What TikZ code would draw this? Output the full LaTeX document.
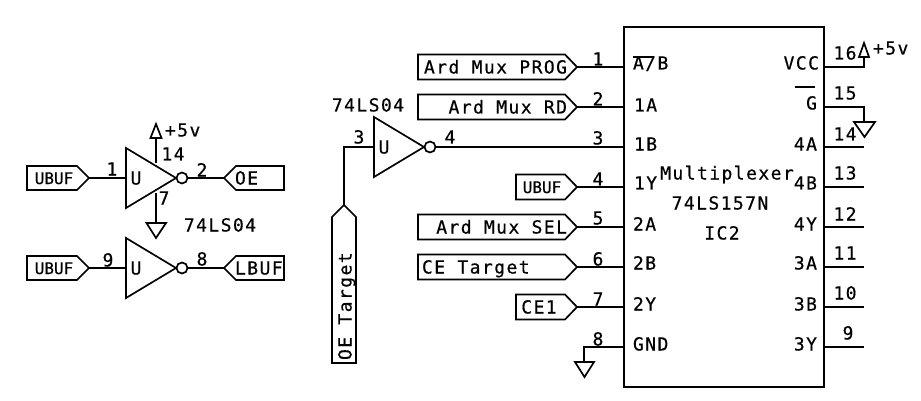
\documentclass[tikz,border=0pt]{standalone}
\usepackage{fontspec}
\newfontfamily\schfont[LetterSpace=8,FakeBold=0.5]{DejaVu Sans Mono}
\newfontfamily\schsmall[FakeBold=0.5]{DejaVu Sans Mono}
\tikzset{
  wire/.style={line width=1.7pt,line join=miter},
  lbl/.style={inner sep=0pt,outer sep=0pt,font=\schfont\fontsize{18}{18}\selectfont,anchor=base},
  lbs/.style={inner sep=0pt,outer sep=0pt,font=\schsmall\fontsize{16}{16}\selectfont,anchor=base},
  bubble/.style={draw,circle,line width=1.7pt,inner sep=0pt,minimum size=11pt},
  chip/.style={draw,rectangle,line width=1.7pt,inner sep=0pt,minimum width=200pt,minimum height=360pt}
}
% output tag pointing right: name, left x, centre y
\newcommand{\tagright}[3]{%
  \draw[wire] (#2,#3-12.5) -- (565,#3-12.5) -- (577,#3) -- (565,#3+12.5) -- (#2,#3+12.5) -- cycle;
  \coordinate (#1) at (577,#3);}
\newcommand{\inverter}[3]{%
  \draw[wire] (#2,#3-30) -- (#2+50,#3) -- (#2,#3+30) -- cycle;
  \coordinate (#1in) at (#2,#3);
  \node[bubble] (#1b) at (#2+56,#3) {};
  \node[lbl] (#1u) at (#2+10,#3+6.5) {U};}
\begin{document}
\begin{tikzpicture}[x=1pt,y=-1pt]
\useasboundingbox (0,0) rectangle (921,401);
\fill[white] (0,0) rectangle (921,401);

% --- left inverters ---
\inverter{ia}{126}{178}
\inverter{ib}{126}{268}
% UBUF tags
\draw[wire] (27,166) -- (77,166) -- (89,178) -- (77,190) -- (27,190) -- cycle;
\coordinate (ua) at (89,178);
\node[lbs] (ual) at (54,184) {UBUF};
\draw[wire] (27,256) -- (77,256) -- (89,268) -- (77,280) -- (27,280) -- cycle;
\coordinate (ub) at (89,268);
\node[lbs] (ubl) at (54,274) {UBUF};
\draw[wire] (ua) -- (iain);
\draw[wire] (ub) -- (ibin);
% OE / LBUF tags
\draw[wire] (224,178) -- (236,166) -- (284,166) -- (284,190) -- (236,190) -- cycle;
\coordinate (oe) at (224,178);
\node[lbl,anchor=base west] (oel) at (235,184.5) {OE};
\draw[wire] (224,268) -- (236,256) -- (284,256) -- (284,280) -- (236,280) -- cycle;
\coordinate (lb) at (224,268);
\node[lbl,anchor=base west] (lbl) at (235,274.5) {LBUF};
\draw[wire] (iab) -- (oe);
\draw[wire] (ibb) -- (lb);
% power on first inverter
\coordinate (iav) at (156,138);
\coordinate (iavb) at (156,163);
\coordinate (iag) at (156,223);
\coordinate (iagb) at (156,193);
\draw[wire] (iavb) -- (iav);
\draw[wire] (iagb) -- (iag);
\draw[wire] (150.5,138) -- (156,124) -- (161.5,138) -- cycle;
\draw[wire] (146.5,223) -- (166,223) -- (156,238) -- cycle;
\node[lbl,anchor=base west] (p5a) at (165,136.5) {+5v};
\node[lbl] (n14a) at (173,160.5) {14};
\node[lbl] (n1a) at (112,175.5) {1};
\node[lbl] (n2a) at (202,176.5) {2};
\node[lbl] (n7a) at (164,204.5) {7};
\node[lbl] (n74a) at (220,231.5) {74LS04};
\node[lbl] (n9a) at (108,266.5) {9};
\node[lbl] (n8a) at (202,265.5) {8};

% --- chip ---
\node[chip] (ic) at (724,207) {};
\node[lbl] (mx) at (727,179.5) {Multiplexer};
\node[lbl] (mxn) at (720,209.5) {74LS157N};
\node[lbl] (mxi) at (722,239.5) {IC2};

% --- left side tags ---
\tagright{t1}{418}{67}
\node[lbl,anchor=base east] (t1l) at (567,73.5) {Ard Mux PROG};
\tagright{t2}{418}{107}
\node[lbl,anchor=base east] (t2l) at (567,113.5) {Ard Mux RD};
\tagright{t4}{516}{187}
\node[lbs] (t4l) at (542,193) {UBUF};
\tagright{t5}{418}{227}
\node[lbl,anchor=base east] (t5l) at (567,233.5) {Ard Mux SEL};
\tagright{t6}{418}{267}
\node[lbl,anchor=base west] (t6l) at (422,273.5) {CE Target};
\tagright{t7}{516}{307}
\node[lbl] (t7l) at (539,313.5) {CE1};
\foreach \n in {t1,t2,t4,t5,t6,t7} \draw[wire] (\n) -- (ic.west |- \n);

% --- middle inverter ---
\inverter{ic3}{374}{147}
\draw[wire] (ic3b) -- (ic.west |- ic3b);
\draw[wire] (332,363) -- (356,363) -- (356,217) -- (344,205) -- (332,217) -- cycle;
\coordinate (oet) at (344,205);
\draw[wire] (oet) |- (ic3in);
\node[lbl,rotate=90,anchor=base west] (oetl) at (351.5,360) {OE Target};
\node[lbl] (n74b) at (368,111.5) {74LS04};
\node[lbl] (n3b) at (359,143.5) {3};
\node[lbl] (n4b) at (450,143.5) {4};

% --- pin numbers left ---
\node[lbl] (pl1) at (598,65.5) {1};
\node[lbl] (pl2) at (598,105.5) {2};
\node[lbl] (pl3) at (598,144.5) {3};
\node[lbl] (pl4) at (598,185.5) {4};
\node[lbl] (pl5) at (598,224.5) {5};
\node[lbl] (pl6) at (598,265.5) {6};
\node[lbl] (pl7) at (598,305.5) {7};
\node[lbl] (pl8) at (598,345.5) {8};
% pin 8 ground
\coordinate (g8) at (584,362);
\draw[wire] (ic.west |- 0,347) -| (g8);
\draw[wire] (575,362) -- (594,362) -- (584.5,377) -- cycle;

% --- chip pin names ---
\node[lbl,anchor=base west] (a1) at (633,69.5) {A/B};
\draw[wire] (633,57) -- (654,57);
\node[lbl,anchor=base west] (a2) at (634,111.5) {1A};
\node[lbl,anchor=base west] (a3) at (634,150.5) {1B};
\node[lbl,anchor=base west] (a4) at (634,189.5) {1Y};
\node[lbl,anchor=base west] (a5) at (633,230.5) {2A};
\node[lbl,anchor=base west] (a6) at (633,269.5) {2B};
\node[lbl,anchor=base west] (a7) at (633,310.5) {2Y};
\node[lbl,anchor=base west] (a8) at (633,350.5) {GND};
\node[lbl,anchor=base east] (b1) at (819,69.5) {VCC};
\node[lbl,anchor=base east] (b2) at (817,109.5) {G};
\draw[wire] (795,87) -- (815,87);
\node[lbl,anchor=base east] (b3) at (817,150.5) {4A};
\node[lbl,anchor=base east] (b4) at (817,189.5) {4B};
\node[lbl,anchor=base east] (b5) at (817,230.5) {4Y};
\node[lbl,anchor=base east] (b6) at (817,269.5) {3A};
\node[lbl,anchor=base east] (b7) at (817,310.5) {3B};
\node[lbl,anchor=base east] (b8) at (817,350.5) {3Y};

% --- right pins ---
\coordinate (r16) at (864,67);
\coordinate (r16t) at (864,57);
\draw[wire] (ic.east |- r16) -- (r16) -- (r16t);
\draw[wire] (859,57) -- (864,43) -- (869,57) -- cycle;
\node[lbl,anchor=base west] (p5b) at (873,54.5) {+5v};
\coordinate (r15) at (864,107);
\coordinate (r15t) at (864,122);
\draw[wire] (ic.east |- r15) -- (r15) -- (r15t);
\draw[wire] (854,122) -- (875,122) -- (864.5,137) -- cycle;
\foreach \n/\y in {14/147,13/187,12/227,11/267,10/307,9/347}{
  \coordinate (r\n) at (864,\y);
  \draw[wire] (ic.east |- r\n) -- (r\n);
}
\node[lbl] (q16) at (845,59.5) {16};
\node[lbl] (q15) at (845,99.5) {15};
\node[lbl] (q14) at (845,140.5) {14};
\node[lbl] (q13) at (845,179.5) {13};
\node[lbl] (q12) at (845,220.5) {12};
\node[lbl] (q11) at (845,259.5) {11};
\node[lbl] (q10) at (845,299.5) {10};
\node[lbl] (q9) at (848,339.5) {9};
\end{tikzpicture}
\end{document}
